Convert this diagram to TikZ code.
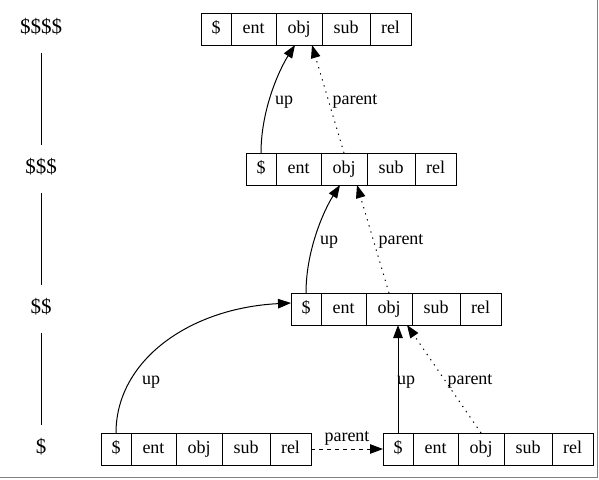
\documentclass[tikz,border=0pt]{standalone}
\usepackage{fontspec}
\setmainfont{Liberation Serif}
\usetikzlibrary{arrows.meta}

% one record: prefix, left x, centre y
\newcommand\recrow[3]{%
  \node[cell, minimum width=30pt] (#1d) at (#2,#3) {\$};
  \node[cell, minimum width=45pt] (#1e) at (#1d.east) {ent};
  \node[cell, minimum width=46pt] (#1o) at (#1e.east) {obj};
  \node[cell, minimum width=48pt] (#1s) at (#1o.east) {sub};
  \node[cell, minimum width=41pt] (#1r) at (#1s.east) {rel};
}

\begin{document}
\begin{tikzpicture}[x=1pt,y=-1pt,
  every node/.style={font=\fontsize{18}{20}\selectfont},
  cell/.style={draw, line width=1pt, outer sep=0pt, inner sep=0pt,
    minimum height=32pt, text height=12.6pt, text depth=4.6pt, anchor=west},
  rank/.style={inner sep=0pt, outer sep=0pt, minimum height=48pt,
    font=\fontsize{21}{24}\selectfont, text height=14pt, text depth=6pt},
  rankline/.style={line width=1pt},
  lbl/.style={inner sep=0pt, anchor=base},
  tip/.style={-{Triangle[length=13pt,width=9.5pt]}},
  upedge/.style={tip, line width=1pt},
  parentedge/.style={tip, line width=1pt, dash pattern=on 1.3pt off 5pt},
  siblingedge/.style={tip, line width=1pt, dash pattern=on 4pt off 4pt}]
\useasboundingbox (0,0) rectangle (599,479);

% window frame
\draw[gray, line width=1pt] (597.5,0) -- (597.5,477.5) -- (0,477.5);

% rank column
\node[rank] (l4) at (41,29) {\$\$\$\$};
\node[rank] (l3) at (41,169) {\$\$\$};
\node[rank] (l2) at (41,309) {\$\$};
\node[rank] (l1) at (41,449) {\$};
\draw[rankline] (l4) -- (l3);
\draw[rankline] (l3) -- (l2);
\draw[rankline] (l2) -- (l1);

% records
\recrow{ra}{201}{29}
\recrow{rb}{246}{169}
\recrow{rc}{291}{309}
\recrow{rd}{101}{449}
\recrow{re}{383}{449}

% level 3 -> 4
\draw[upedge] (rbd.north) .. controls +(0,-43) and +(-16,25) .. ([xshift=-4pt]rao.south);
\draw[parentedge] (rbo.north) -- ([xshift=13pt]rao.south);
\node[lbl] (u4) at (284,104) {up};
\node[lbl] (p4) at (355,104) {parent};

% level 2 -> 3
\draw[upedge] (rcd.north) .. controls +(0,-43) and +(-16,25) .. ([xshift=-4pt]rbo.south);
\draw[parentedge] (rco.north) -- ([xshift=13pt]rbo.south);
\node[lbl] (u3) at (329,244) {up};
\node[lbl] (p3) at (401,244) {parent};

% level 1 -> 2
\draw[upedge] (rdd.north) .. controls +(0,-73) and +(-101,5) .. ([yshift=6pt]rcd.west);
\draw[upedge] (red.north) -- (red.north |- rco.south);
\draw[parentedge] (reo.north) -- ([xshift=18pt]rco.south);
\draw[siblingedge] (rdr.east) -- (red.west);
\node[lbl] (u2a) at (151,384) {up};
\node[lbl] (u2b) at (406,384) {up};
\node[lbl] (p2) at (470,384) {parent};
\node[lbl] (p1) at (347,441) {parent};
\end{tikzpicture}
\end{document}
